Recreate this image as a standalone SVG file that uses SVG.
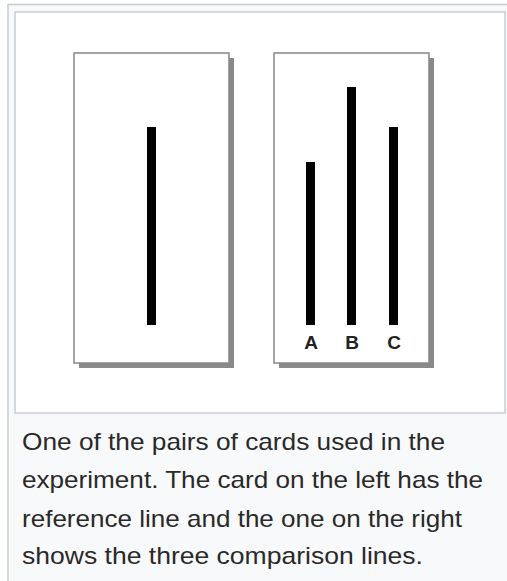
<svg xmlns="http://www.w3.org/2000/svg" width="507" height="581" viewBox="0 0 507 581">
<style>
.card{fill:#fff;stroke:#888;stroke-width:1.5}
.shadow{fill:#8a8a8a}
.bar{fill:#000}
.lbl{font-family:"Liberation Sans",Arial,sans-serif;font-weight:bold;font-size:19px;fill:#222;text-anchor:middle}
.cap{font-family:"Liberation Sans",Arial,sans-serif;font-size:24px;fill:#2a2a2a}
</style>
<rect x="0" y="0" width="507" height="581" fill="#fff"/>
<rect x="8" y="4.5" width="510" height="590" fill="#f8f9fa" stroke="#c8ccd1" stroke-width="1.5"/>
<rect x="15" y="12" width="490" height="401" fill="#fff" stroke="#c8ccd1" stroke-width="1.5"/>
<g id="card-left">
<rect class="shadow" x="79" y="58" width="155" height="310"/>
<rect class="card" x="74" y="53" width="155" height="310"/>
<rect class="bar" x="147" y="127" width="9" height="198"/>
</g>
<g id="card-right">
<rect class="shadow" x="279" y="58" width="155" height="310"/>
<rect class="card" x="274" y="53" width="155" height="310"/>
<rect class="bar" x="306" y="162" width="9" height="163"/>
<rect class="bar" x="347" y="87" width="9" height="238"/>
<rect class="bar" x="389" y="127" width="9" height="198"/>
<text class="lbl" x="311" y="349">A</text>
<text class="lbl" x="352" y="349">B</text>
<text class="lbl" x="394" y="349">C</text>
</g>
<g id="caption">
<text class="cap" x="22" y="450" textLength="423" lengthAdjust="spacingAndGlyphs">One of the pairs of cards used in the</text>
<text class="cap" x="22" y="488" textLength="461" lengthAdjust="spacingAndGlyphs">experiment. The card on the left has the</text>
<text class="cap" x="22" y="527" textLength="440" lengthAdjust="spacingAndGlyphs">reference line and the one on the right</text>
<text class="cap" x="22" y="564" textLength="401" lengthAdjust="spacingAndGlyphs">shows the three comparison lines.</text>
</g>
</svg>
